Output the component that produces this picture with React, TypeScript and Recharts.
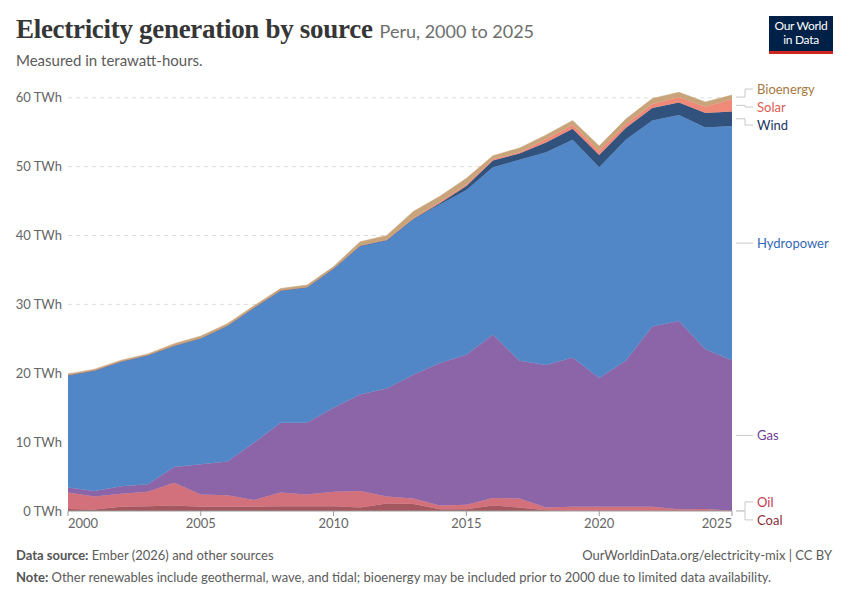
import { AreaChart, Area, XAxis, YAxis, CartesianGrid } from 'recharts';

const years = [
  2000, 2001, 2002, 2003, 2004, 2005, 2006, 2007, 2008, 2009, 2010, 2011, 2012,
  2013, 2014, 2015, 2016, 2017, 2018, 2019, 2020, 2021, 2022, 2023, 2024, 2025,
];

// TWh
const coal = [0.3, 0.2, 0.6, 0.7, 0.8, 0.6, 0.6, 0.6, 0.7, 0.7, 0.7, 0.5, 1.1, 1.0, 0.25, 0.25, 0.8, 0.5, 0.1, 0.05, 0.05, 0.05, 0.05, 0, 0, 0];
const oil = [2.4, 1.9, 1.9, 2.1, 3.3, 1.8, 1.7, 1.0, 2.0, 1.7, 2.1, 2.4, 1.0, 0.8, 0.55, 0.65, 1.1, 1.3, 0.4, 0.55, 0.55, 0.55, 0.55, 0.25, 0.3, 0.05];
const gas = [0.7, 0.8, 1.1, 1.1, 2.3, 4.4, 4.9, 8.3, 10.1, 10.4, 12.2, 14.0, 15.7, 18.0, 20.7, 21.8, 23.7, 20.0, 20.7, 21.7, 18.7, 21.2, 26.2, 27.35, 23.2, 21.85];
const hydro = [16.3, 17.5, 18.1, 18.7, 17.6, 18.3, 19.7, 19.6, 19.2, 19.7, 20.2, 21.6, 21.5, 22.6, 23.0, 23.9, 24.3, 29.2, 30.9, 31.6, 30.6, 32.1, 29.9, 29.9, 32.2, 34.0];
const wind = [0, 0, 0, 0, 0, 0, 0, 0, 0, 0, 0, 0, 0, 0, 0.2, 0.6, 1.0, 0.9, 1.4, 1.6, 1.8, 1.7, 1.8, 1.8, 2.1, 2.1];
const solar = [0, 0, 0, 0, 0, 0, 0, 0, 0, 0, 0, 0, 0.1, 0.1, 0.2, 0.2, 0.2, 0.2, 0.5, 0.6, 0.6, 0.6, 0.6, 0.8, 0.9, 1.8];
const bioenergy = [0.2, 0.2, 0.2, 0.2, 0.3, 0.3, 0.3, 0.3, 0.3, 0.3, 0.3, 0.6, 0.6, 1.0, 0.8, 0.9, 0.5, 0.6, 0.6, 0.6, 0.7, 0.7, 0.8, 0.7, 0.7, 0.6];

const xTicks = [2000, 2005, 2010, 2015, 2020, 2025];
const yTicks = [0, 10, 20, 30, 40, 50, 60];
const gridValues = [10, 20, 30, 40, 50, 60];

const series = [
  { key: 'coal', name: 'Coal', values: coal, fill: '#a4585e', text: '#8b2f38' },
  { key: 'oil', name: 'Oil', values: oil, fill: '#d2717b', text: '#c23b4f' },
  { key: 'gas', name: 'Gas', values: gas, fill: '#8c65a8', text: '#6d3e91' },
  { key: 'hydro', name: 'Hydropower', values: hydro, fill: '#5187c6', text: '#3568b5' },
  { key: 'wind', name: 'Wind', values: wind, fill: '#31527d', text: '#1b3665' },
  { key: 'solar', name: 'Solar', values: solar, fill: '#ef8a78', text: '#de5d52' },
  { key: 'bioenergy', name: 'Bioenergy', values: bioenergy, fill: '#c8a47a', text: '#a6783f' },
];

const data = years.map((year, i) => {
  const row: Record<string, number> = { year };
  series.forEach(s => (row[s.key] = s.values[i]));
  return row;
});

const W = 850;
const H = 560;
const M = { top: 84, right: 118, bottom: 19, left: 8 };
const Y_AXIS_W = 60;
const X_AXIS_H = 30;
const Y_MAX = 62;
const plotRight = W - M.right;
const plotBottom = H - M.bottom - X_AXIS_H;
const plotH = plotBottom - M.top;
const yOf = (v: number) => plotBottom - (v / Y_MAX) * plotH;

const font = 'Lato, "Noto Sans", sans-serif';

// end labels, pushed apart so they don't overlap
function endLabels() {
  const last = data.length - 1;
  let cum = 0;
  const items = series.map(s => {
    const v = s.values[last];
    const mid = yOf(cum + v / 2);
    cum += v;
    return { ...s, mid, y: mid };
  });
  const sorted = [...items].sort((a, b) => a.mid - b.mid);
  const gap = 18;
  let groups = sorted.map(it => [it]);
  const place = (g: typeof sorted) => {
    const c = g.reduce((s, it) => s + it.mid, 0) / g.length;
    g.forEach((it, k) => (it.y = c - ((g.length - 1) / 2) * gap + k * gap));
  };
  let merged = true;
  while (merged) {
    merged = false;
    groups.forEach(place);
    for (let i = 0; i < groups.length - 1; i++) {
      const a = groups[i][groups[i].length - 1];
      const b = groups[i + 1][0];
      if (b.y - a.y < gap) {
        groups = [...groups.slice(0, i), [...groups[i], ...groups[i + 1]], ...groups.slice(i + 2)];
        merged = true;
        break;
      }
    }
  }
  groups.forEach(place);
  return sorted;
}

const XTick = (props: any) => {
  const { x, y, payload } = props;
  const v = payload.value;
  const anchor = v === xTicks[0] ? 'start' : v === xTicks[xTicks.length - 1] ? 'end' : 'middle';
  return (
    <text x={x} y={y} dy={10} textAnchor={anchor} fill="#666" fontSize={13} fontFamily={font}>
      {v}
    </text>
  );
};

export default function App() {
  const labels = endLabels();
  return (
    <div style={{ position: 'absolute', left: 0, top: 0, width: W, height: 600, background: '#fff', fontFamily: font }}>
      <div style={{ position: 'absolute', left: 16, top: 14, whiteSpace: 'nowrap' }}>
        <span style={{ fontFamily: '"Liberation Serif", "DejaVu Serif", serif', fontWeight: 700, fontSize: 27, color: '#363636', letterSpacing: -0.3 }}>
          Electricity generation by source
        </span>
        <span style={{ fontSize: 18, color: '#6e6e6e', marginLeft: 7 }}>Peru, 2000 to 2025</span>
      </div>
      <div style={{ position: 'absolute', left: 16, top: 51, fontSize: 15, color: '#5b5b5b' }}>Measured in terawatt-hours.</div>

      <div style={{ position: 'absolute', left: 769, top: 16, width: 64, height: 38, background: '#002147' }}>
        <div style={{ color: '#fff', fontSize: 12, lineHeight: '14px', textAlign: 'center', paddingTop: 3, letterSpacing: -0.3 }}>
          Our World
          <br />
          in Data
        </div>
        <div style={{ position: 'absolute', left: 0, bottom: 0, width: '100%', height: 3, background: '#ce261e' }} />
      </div>

      <div style={{ position: 'absolute', left: 0, top: 0 }}>
        <AreaChart width={W} height={H} data={data} margin={M}>
          <CartesianGrid vertical={false} horizontalValues={gridValues} stroke="#dddddd" strokeDasharray="4 4" />
          <XAxis
            dataKey="year"
            type="number"
            domain={[2000, 2025]}
            ticks={xTicks}
            height={X_AXIS_H}
            tickLine={{ stroke: '#999' }}
            tickSize={5}
            axisLine={{ stroke: '#999' }}
            tick={<XTick />}
            interval={0}
          />
          <YAxis
            domain={[0, Y_MAX]}
            ticks={yTicks}
            width={Y_AXIS_W}
            axisLine={false}
            tickLine={false}
            tickFormatter={v => `${v} TWh`}
            tick={{ fill: '#666', fontSize: 13, fontFamily: font }}
            tickMargin={0}
            allowDataOverflow
          />
          {series.map(s => (
            <Area
              key={s.key}
              type="linear"
              dataKey={s.key}
              name={s.name}
              stackId="1"
              fill={s.fill}
              fillOpacity={1}
              stroke={s.fill}
              strokeWidth={0.5}
              isAnimationActive={false}
              dot={false}
              activeDot={false}
            />
          ))}
        </AreaChart>
      </div>

      <svg width={W} height={600} style={{ position: 'absolute', left: 0, top: 0, pointerEvents: 'none' }}>
        {labels.map(l => {
          const x0 = plotRight + 4;
          const xe = plotRight + 13;
          const x1 = plotRight + 21;
          const path = `M${x0},${l.mid} H${xe} V${l.y} H${x1}`;
          return (
            <g key={l.key}>
              <path d={path} fill="none" stroke="#c8c8c8" strokeWidth={1} />
              <text x={x1 + 4} y={l.y} dominantBaseline="central" fontSize={13} fill={l.text} fontFamily={font}>
                {l.name}
              </text>
            </g>
          );
        })}
      </svg>

      <div style={{ position: 'absolute', left: 16, top: 547, fontSize: 13, color: '#5b5b5b' }}>
        <b style={{ color: '#555' }}>Data source:</b> Ember (2026) and other sources
      </div>
      <div style={{ position: 'absolute', right: 18, top: 547, fontSize: 13, color: '#5b5b5b' }}>
        OurWorldinData.org/electricity-mix | CC BY
      </div>
      <div style={{ position: 'absolute', left: 16, top: 569, fontSize: 13, color: '#5b5b5b', whiteSpace: 'nowrap' }}>
        <b style={{ color: '#555' }}>Note:</b> Other renewables include geothermal, wave, and tidal; bioenergy may be included prior to
        2000 due to limited data availability.
      </div>
    </div>
  );
}
